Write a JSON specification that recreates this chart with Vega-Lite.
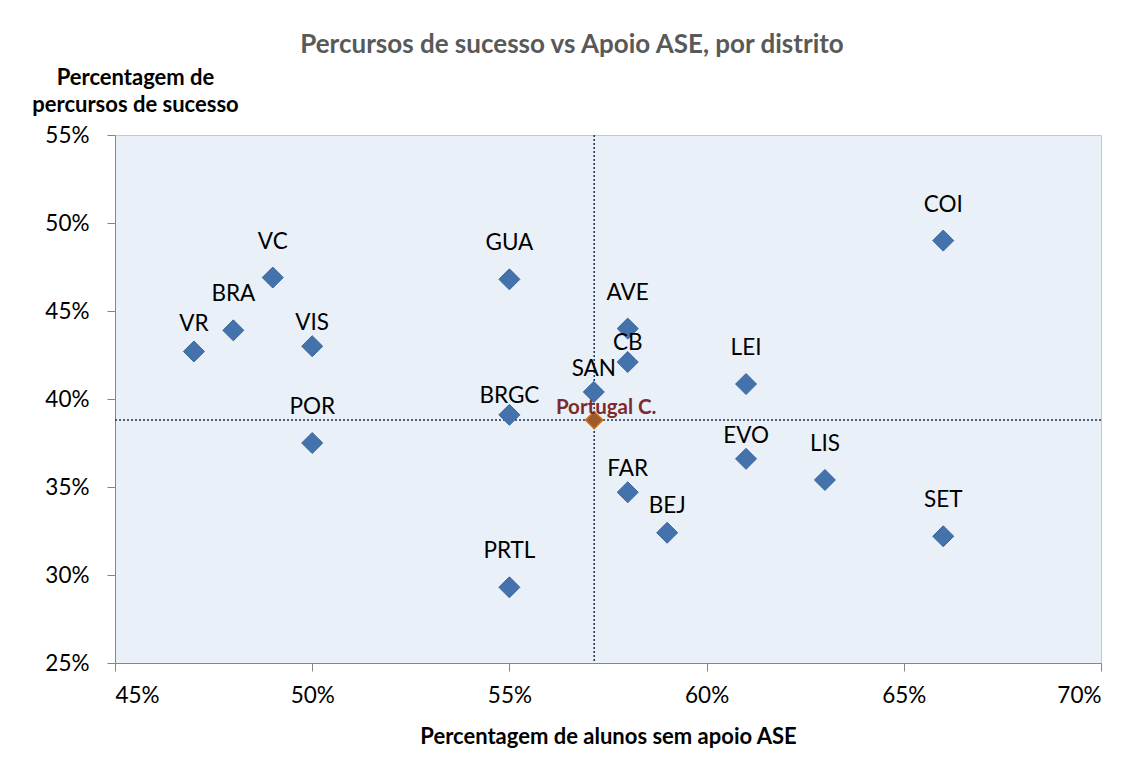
{
  "$schema": "https://vega.github.io/schema/vega-lite/v6.json",
  "width": 986,
  "height": 528,
  "autosize": {"type": "none"},
  "padding": {"left": 115, "top": 135, "right": 33, "bottom": 101},
  "background": "white",
  "title": {
    "text": "Percursos de sucesso vs Apoio ASE, por distrito",
    "font": "Lato",
    "fontSize": 26,
    "fontWeight": "bold",
    "color": "#595959",
    "anchor": "middle",
    "dx": -36,
    "offset": 8
  },
  "config": {
    "view": {"fill": "#eaf0f8", "stroke": "#c8c8c8", "strokeWidth": 1},
    "font": "Lato"
  },
  "data": {
    "values": [
      {"d": "VR", "x": 47, "y": 42.7},
      {"d": "BRA", "x": 48, "y": 43.9},
      {"d": "VC", "x": 49, "y": 46.9},
      {"d": "VIS", "x": 50, "y": 43.0},
      {"d": "POR", "x": 50, "y": 37.5},
      {"d": "GUA", "x": 55, "y": 46.8},
      {"d": "BRGC", "x": 55, "y": 39.1},
      {"d": "PRTL", "x": 55, "y": 29.3},
      {"d": "SAN", "x": 57.14, "y": 40.4},
      {"d": "AVE", "x": 58, "y": 44.0},
      {"d": "CB", "x": 58, "y": 42.1},
      {"d": "FAR", "x": 58, "y": 34.7},
      {"d": "BEJ", "x": 59, "y": 32.4},
      {"d": "LEI", "x": 61, "y": 40.85},
      {"d": "EVO", "x": 61, "y": 36.6},
      {"d": "LIS", "x": 63, "y": 35.4},
      {"d": "COI", "x": 66, "y": 49.0},
      {"d": "SET", "x": 66, "y": 32.2},
      {"d": "Portugal C.", "x": 57.15, "y": 38.8}
    ]
  },
  "encoding": {
    "x": {
      "field": "x", "type": "quantitative",
      "scale": {"domain": [45, 70], "nice": false, "zero": false},
      "axis": {
        "title": "Percentagem de alunos sem apoio ASE",
        "values": [45, 50, 55, 60, 65, 70],
        "labelExpr": "datum.value + '%'",
        "grid": false,
        "domainColor": "#868686",
        "tickColor": "#868686",
        "tickSize": 8,
        "labelPadding": 13,
        "labelFontSize": 22.5,
        "labelColor": "#000000",
        "labelFont": "Lato",
        "titleFont": "Lato",
        "titleFontSize": 22,
        "titleFontWeight": "bold",
        "titleColor": "#000000",
        "titlePadding": 20
      }
    },
    "y": {
      "field": "y", "type": "quantitative",
      "scale": {"domain": [25, 55], "nice": false, "zero": false},
      "axis": {
        "title": ["Percentagem de", "percursos de sucesso"],
        "values": [25, 30, 35, 40, 45, 50, 55],
        "labelExpr": "datum.value + '%'",
        "grid": false,
        "domainColor": "#868686",
        "tickColor": "#868686",
        "tickSize": 8,
        "labelPadding": 18,
        "labelFontSize": 22.5,
        "labelColor": "#000000",
        "labelFont": "Lato",
        "titleFont": "Lato",
        "titleFontSize": 22,
        "titleFontWeight": "bold",
        "titleColor": "#000000",
        "titleAngle": 0,
        "titleAlign": "center",
        "titleBaseline": "alphabetic",
        "titleX": 20,
        "titleY": -51,
        "titleLineHeight": 27
      }
    }
  },
  "layer": [
    {
      "transform": [{"filter": "datum.d == 'Portugal C.'"}],
      "mark": {"type": "rule", "color": "#1f3050", "strokeWidth": 1.5, "strokeDash": [2, 2]},
      "encoding": {"y": null}
    },
    {
      "transform": [{"filter": "datum.d == 'Portugal C.'"}],
      "mark": {"type": "rule", "color": "#1f3050", "strokeWidth": 1.5, "strokeDash": [2, 2]},
      "encoding": {"x": null}
    },
    {
      "transform": [{"filter": "datum.d != 'Portugal C.'"}],
      "mark": {"type": "point", "shape": "diamond", "filled": true, "size": 440, "color": "#4472ac", "stroke": "#3a6497", "strokeWidth": 1, "opacity": 1}
    },
    {
      "transform": [{"filter": "datum.d == 'Portugal C.'"}],
      "mark": {"type": "point", "shape": "diamond", "filled": true, "size": 300, "color": "#9b5a2a", "stroke": "#d0701c", "strokeWidth": 1.5, "opacity": 1}
    },
    {
      "transform": [{"filter": "indexof(['BRA','VC','POR','GUA','PRTL','AVE','LEI','LIS','COI','SET'], datum.d) >= 0"}],
      "mark": {"type": "text", "fontSize": 22.5, "color": "#000000", "baseline": "middle", "dy": -36},
      "encoding": {"text": {"field": "d"}}
    },
    {
      "transform": [{"filter": "indexof(['VIS','SAN','EVO','FAR'], datum.d) >= 0"}],
      "mark": {"type": "text", "fontSize": 22.5, "color": "#000000", "baseline": "middle", "dy": -23},
      "encoding": {"text": {"field": "d"}}
    },
    {
      "transform": [{"filter": "indexof(['VR','BEJ'], datum.d) >= 0"}],
      "mark": {"type": "text", "fontSize": 22.5, "color": "#000000", "baseline": "middle", "dy": -27},
      "encoding": {"text": {"field": "d"}}
    },
    {
      "transform": [{"filter": "indexof(['CB','BRGC'], datum.d) >= 0"}],
      "mark": {"type": "text", "fontSize": 22.5, "color": "#000000", "baseline": "middle", "dy": -19},
      "encoding": {"text": {"field": "d"}}
    },
    {
      "transform": [{"filter": "datum.d == 'Portugal C.'"}],
      "mark": {"type": "text", "fontSize": 20.5, "fontWeight": "bold", "color": "#7b2c2c", "baseline": "middle", "dx": 12, "dy": -12},
      "encoding": {"text": {"field": "d"}}
    }
  ]
}
